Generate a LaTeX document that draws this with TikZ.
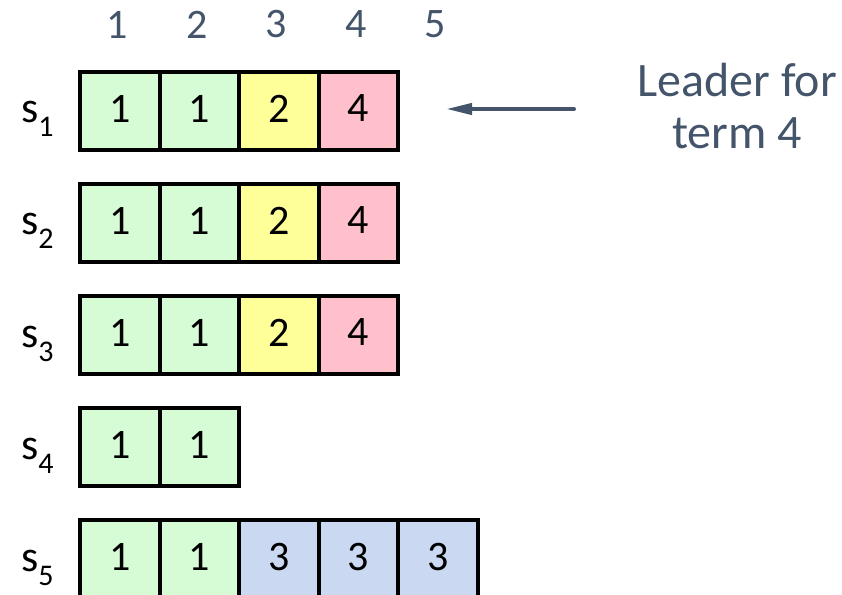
\documentclass[tikz,border=0pt]{standalone}
\usepackage{fontspec}
\setmainfont{Carlito}
\usetikzlibrary{arrows.meta}
\definecolor{slate}{HTML}{44546A}
\definecolor{cgreen}{HTML}{D5FCD5}
\definecolor{cyellow}{HTML}{FFFF99}
\definecolor{cpink}{HTML}{FFC0CB}
\definecolor{cblue}{HTML}{CAD8F2}
\tikzset{
  cell/.style={draw=black, line width=4bp, minimum width=79.5bp, minimum height=78bp,
    inner sep=0pt, anchor=north west, font=\fontsize{42bp}{46bp}\selectfont,
    text depth=5bp},
  gcell/.style={cell, fill=cgreen},
  ycell/.style={cell, fill=cyellow},
  pcell/.style={cell, fill=cpink},
  bcell/.style={cell, fill=cblue},
  colhead/.style={text=slate, font=\fontsize{42bp}{46bp}\selectfont, inner sep=0pt},
  rowlab/.style={anchor=base west, inner sep=0pt},
  note/.style={text=slate, align=center, font=\fontsize{48bp}{52bp}\selectfont, inner sep=0pt}
}
\newcommand{\slab}[1]{\fontsize{44bp}{48bp}\selectfont s\raisebox{-14bp}{\fontsize{30bp}{32bp}\selectfont #1}}
\begin{document}
\begin{tikzpicture}[x=1bp,y=-1bp]
  \useasboundingbox (0,0) rectangle (842,595);
  % column indices
  \foreach \c in {1,...,5} {
    \node[colhead] (h\c) at ({38+79.5*\c},24.5) {\c};
  }
  % row 1
  \node[gcell] (a1) at (78,70) {1};
  \node[gcell] (a2) at (157.5,70) {1};
  \node[ycell] (a3) at (237,70) {2};
  \node[pcell] (a4) at (316.5,70) {4};
  % row 2
  \node[gcell] (b1) at (78,182) {1};
  \node[gcell] (b2) at (157.5,182) {1};
  \node[ycell] (b3) at (237,182) {2};
  \node[pcell] (b4) at (316.5,182) {4};
  % row 3
  \node[gcell] (c1) at (78,294) {1};
  \node[gcell] (c2) at (157.5,294) {1};
  \node[ycell] (c3) at (237,294) {2};
  \node[pcell] (c4) at (316.5,294) {4};
  % row 4
  \node[gcell] (d1) at (78,406) {1};
  \node[gcell] (d2) at (157.5,406) {1};
  % row 5
  \node[gcell] (e1) at (78,518) {1};
  \node[gcell] (e2) at (157.5,518) {1};
  \node[bcell] (e3) at (237,518) {3};
  \node[bcell] (e4) at (316.5,518) {3};
  \node[bcell] (e5) at (396,518) {3};
  % server labels
  \node[rowlab] (s1) at (21,123) {\slab{1}};
  \node[rowlab] (s2) at (21,235) {\slab{2}};
  \node[rowlab] (s3) at (21,347) {\slab{3}};
  \node[rowlab] (s4) at (21,459) {\slab{4}};
  \node[rowlab] (s5) at (21,571) {\slab{5}};
  % leader annotation
  \node[note] (lead) at (737,106) {Leader for\\term 4};
  \coordinate (tail) at (574,109);
  \coordinate (tip) at (446,109);
  \draw[slate, line width=4bp, line cap=round,
        -{Stealth[length=26bp, width=11bp, inset=0bp]}] (tail) -- (tip);
\end{tikzpicture}
\end{document}
